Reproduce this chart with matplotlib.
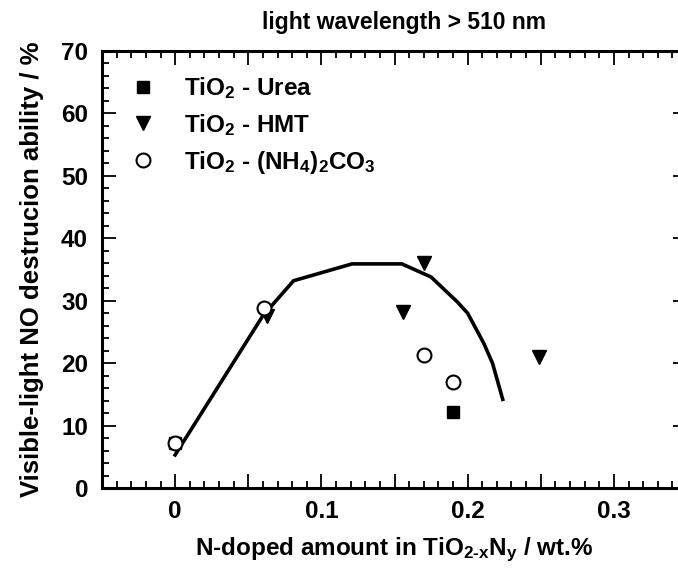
import matplotlib
matplotlib.use("Agg")
import matplotlib.pyplot as plt
from matplotlib.ticker import MultipleLocator, FuncFormatter

# data
curve_x = [0.0, 0.06, 0.081, 0.121, 0.155, 0.175, 0.193, 0.200, 0.2055, 0.211, 0.217, 0.224]
curve_y = [5.3, 27.6, 33.2, 35.9, 35.9, 33.8, 29.8, 28.0, 25.6, 23.2, 20.0, 14.2]

urea_x = [0.0, 0.19]
urea_y = [7.2, 12.2]

hmt_x = [0.063, 0.156, 0.17, 0.249]
hmt_y = [27.6, 28.2, 36.0, 21.0]

carb_x = [0.0, 0.061, 0.17, 0.19]
carb_y = [7.2, 28.8, 21.3, 16.9]

xticks_labelled = [0.0, 0.1, 0.2, 0.3]

plt.rcParams.update({
    "font.family": ["Liberation Sans", "DejaVu Sans"],
    "font.weight": "bold",
    "axes.labelweight": "bold",
    "mathtext.fontset": "custom",
    "mathtext.rm": "Liberation Sans:bold",
    "mathtext.bf": "Liberation Sans:bold",
    "mathtext.default": "bf",
})

fig = plt.figure(figsize=(6.78, 5.69), dpi=100)
ax = fig.add_axes([102 / 678, 1 - 488 / 569, (687 - 102) / 678, (488 - 51) / 569])

ax.plot(curve_x, curve_y, color="black", lw=2.6, zorder=2, solid_joinstyle="miter")
ax.plot(urea_x, urea_y, ls="none", marker="s", ms=9, color="black", zorder=3,
        label=r"TiO$_2$ - Urea")
ax.plot(hmt_x, hmt_y, ls="none", marker="v", ms=10, color="black", zorder=3,
        label=r"TiO$_2$ - HMT")
ax.plot(carb_x, carb_y, ls="none", marker="o", ms=10, mfc="white", mec="black",
        mew=1.5, zorder=4, label=r"TiO$_2$ - (NH$_4$)$_2$CO$_3$")

ax.set_xlim(-0.05, 0.35)
ax.set_ylim(0, 70)

ax.xaxis.set_major_locator(MultipleLocator(0.05))
ax.xaxis.set_minor_locator(MultipleLocator(0.01))
ax.yaxis.set_major_locator(MultipleLocator(10))
ax.yaxis.set_minor_locator(MultipleLocator(2))


def x_fmt(v, pos):
    for t in xticks_labelled:
        if abs(v - t) < 1e-6:
            return "0" if t == 0 else f"{t:.1f}"
    return ""


ax.xaxis.set_major_formatter(FuncFormatter(x_fmt))

ax.tick_params(which="both", direction="in", top=True, right=True,
               width=1.3, labelsize=17.5)
ax.tick_params(axis="x", pad=9)
ax.tick_params(axis="y", pad=10)
ax.tick_params(which="major", length=10)
ax.tick_params(which="minor", length=5)
ax.tick_params(axis="y", which="minor", right=False)
for s in ax.spines.values():
    s.set_linewidth(2.2)

ax.set_xlabel(r"N-doped amount in TiO$_{2\text{-}x}$N$_y$ / wt.%", fontsize=17.5, labelpad=9)
ax.set_ylabel("Visible-light NO destrucion ability / %", fontsize=18.5, labelpad=12)
ax.set_title("light wavelength > 510 nm", fontsize=16.5, fontweight="bold", pad=16,
             x=(404 - 102) / (687 - 102))

ax.legend(loc="upper left", frameon=False, fontsize=17.5, handletextpad=0.7,
          labelspacing=0.45, borderaxespad=0.0, bbox_to_anchor=(0.012, 0.967))

fig.savefig("out.png", dpi=100)
